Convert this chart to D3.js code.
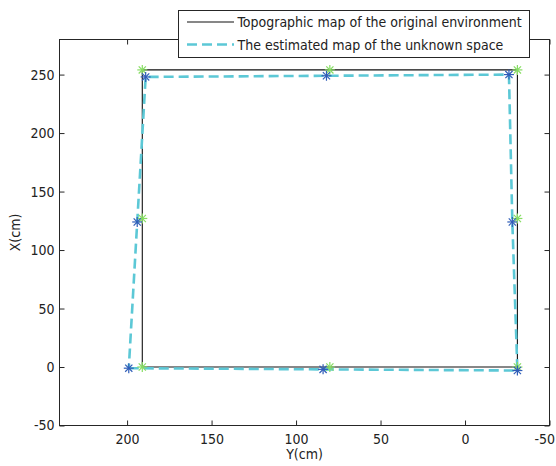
<!DOCTYPE html>
<html>
<head>
<meta charset="utf-8">
<script src="https://cdn.jsdelivr.net/npm/d3@7"></script>
<style>
  html, body { margin: 0; padding: 0; background: #fff; }
  svg text { font-family: "Liberation Sans Narrow", "DejaVu Sans Condensed", "Liberation Sans", sans-serif; fill: #222; }
</style>
</head>
<body>
<svg id="chart" width="556" height="466"></svg>
<script>
// Reference room outline (Y, X in cm)
const origY = [191, 80, -31, -31, -31, 80, 191, 191];
const origX = [0, 0, 0, 127, 254, 254, 254, 127];
// Estimated outline of the unknown space (Y, X in cm)
const estY = [199, 84, -31, -28, -26, 82, 189, 194];
const estX = [-1, -2, -3, 124, 250, 249, 248, 124];
// Axis ticks
const yTicks = [200, 150, 100, 50, 0, -50];
const xTicks = [-50, 0, 50, 100, 150, 200, 250];
const legendLabels = ["Topographic map of the original environment", "The estimated map of the unknown space"];

const svg = d3.select("#chart");
const pLeft = 59.5, pRight = 549.5, pTop = 39.5, pBottom = 425.5;

const sx = d3.scaleLinear().domain([240, -50]).range([pLeft, pRight]);
const sy = d3.scaleLinear().domain([-50, 280]).range([pBottom, pTop]);

const cyan = "#5cc8d6", green = "#86dd62", blue = "#2f5db8";
const fmt = d => String(d);   // plain hyphen-minus labels

// axes frame
svg.append("rect").attr("x", pLeft).attr("y", pTop)
  .attr("width", pRight - pLeft).attr("height", pBottom - pTop)
  .attr("fill", "#fff").attr("stroke", "#262626").attr("stroke-width", 1);

const tl = 5;
const bottomAxis = d3.axisBottom(sx).tickValues(yTicks).tickSize(-tl).tickPadding(9).tickFormat(fmt);
const topAxis = d3.axisTop(sx).tickValues(yTicks).tickSize(-tl).tickFormat("");
const leftAxis = d3.axisLeft(sy).tickValues(xTicks).tickSize(-tl).tickPadding(5).tickFormat(fmt);
const rightAxis = d3.axisRight(sy).tickValues(xTicks).tickSize(-tl).tickFormat("");

function styleAxis(g) {
  g.select(".domain").remove();
  g.selectAll(".tick line").attr("stroke", "#262626");
  g.selectAll("text").attr("font-size", 14).attr("fill", "#222")
    .attr("font-family", "'Liberation Sans Narrow', 'DejaVu Sans Condensed', sans-serif");
}
const gBottom = svg.append("g").attr("transform", `translate(0,${pBottom})`).call(bottomAxis).call(styleAxis);
// keep the last label inside the figure
gBottom.selectAll(".tick text").filter(d => d === sx.domain()[1])
  .attr("text-anchor", "end").attr("x", 5);
svg.append("g").attr("transform", `translate(0,${pTop})`).call(topAxis).call(styleAxis);
svg.append("g").attr("transform", `translate(${pLeft},0)`).call(leftAxis).call(styleAxis);
svg.append("g").attr("transform", `translate(${pRight},0)`).call(rightAxis).call(styleAxis);

// axis titles
svg.append("text").attr("x", (pLeft + pRight) / 2).attr("y", 459)
  .attr("text-anchor", "middle").attr("font-size", 14).text("Y(cm)");
svg.append("text").attr("transform", `translate(20,${(pTop + pBottom) / 2}) rotate(-90)`)
  .attr("text-anchor", "middle").attr("font-size", 14).text("X(cm)");

const line = d3.line().x(d => sx(d[0])).y(d => sy(d[1]));
const origPts = origY.map((v, i) => [v, origX[i]]);
const estPts = estY.map((v, i) => [v, estX[i]]);

// reference outline
svg.append("path").datum([...origPts, origPts[0]]).attr("d", line)
  .attr("fill", "none").attr("stroke", "#111").attr("stroke-width", 1.1);
// estimated outline
svg.append("path").datum([...estPts, estPts[0]]).attr("d", line)
  .attr("fill", "none").attr("stroke", cyan).attr("stroke-width", 2.6)
  .attr("stroke-dasharray", "10,5");

// star markers (plus overlaid with a cross)
function star(g, pts, color) {
  const r = 5, d = r * 0.72;
  const s = g.selectAll(null).data(pts).enter().append("g")
    .attr("transform", p => `translate(${sx(p[0])},${sy(p[1])})`)
    .attr("stroke", color).attr("stroke-width", 1.2);
  s.append("line").attr("x1", -r).attr("x2", r).attr("y1", 0).attr("y2", 0);
  s.append("line").attr("x1", 0).attr("x2", 0).attr("y1", -r).attr("y2", r);
  s.append("line").attr("x1", -d).attr("x2", d).attr("y1", -d).attr("y2", d);
  s.append("line").attr("x1", -d).attr("x2", d).attr("y1", d).attr("y2", -d);
}
star(svg.append("g"), origPts, green);
star(svg.append("g"), estPts, blue);

// legend
const lg = svg.append("g");
lg.append("rect").attr("x", 178.5).attr("y", 10.5).attr("width", 351).attr("height", 47)
  .attr("fill", "#fff").attr("stroke", "#262626").attr("stroke-width", 1);
const rows = [22, 44.5];
lg.append("line").attr("x1", 187).attr("x2", 234).attr("y1", rows[0]).attr("y2", rows[0])
  .attr("stroke", "#111").attr("stroke-width", 1.1);
lg.append("line").attr("x1", 187).attr("x2", 234).attr("y1", rows[1]).attr("y2", rows[1])
  .attr("stroke", cyan).attr("stroke-width", 2.6).attr("stroke-dasharray", "10,5");
legendLabels.forEach((t, i) => {
  lg.append("text").attr("x", 237.5).attr("y", rows[i] + 5).attr("font-size", 14).text(t);
});
</script>
</body>
</html>
